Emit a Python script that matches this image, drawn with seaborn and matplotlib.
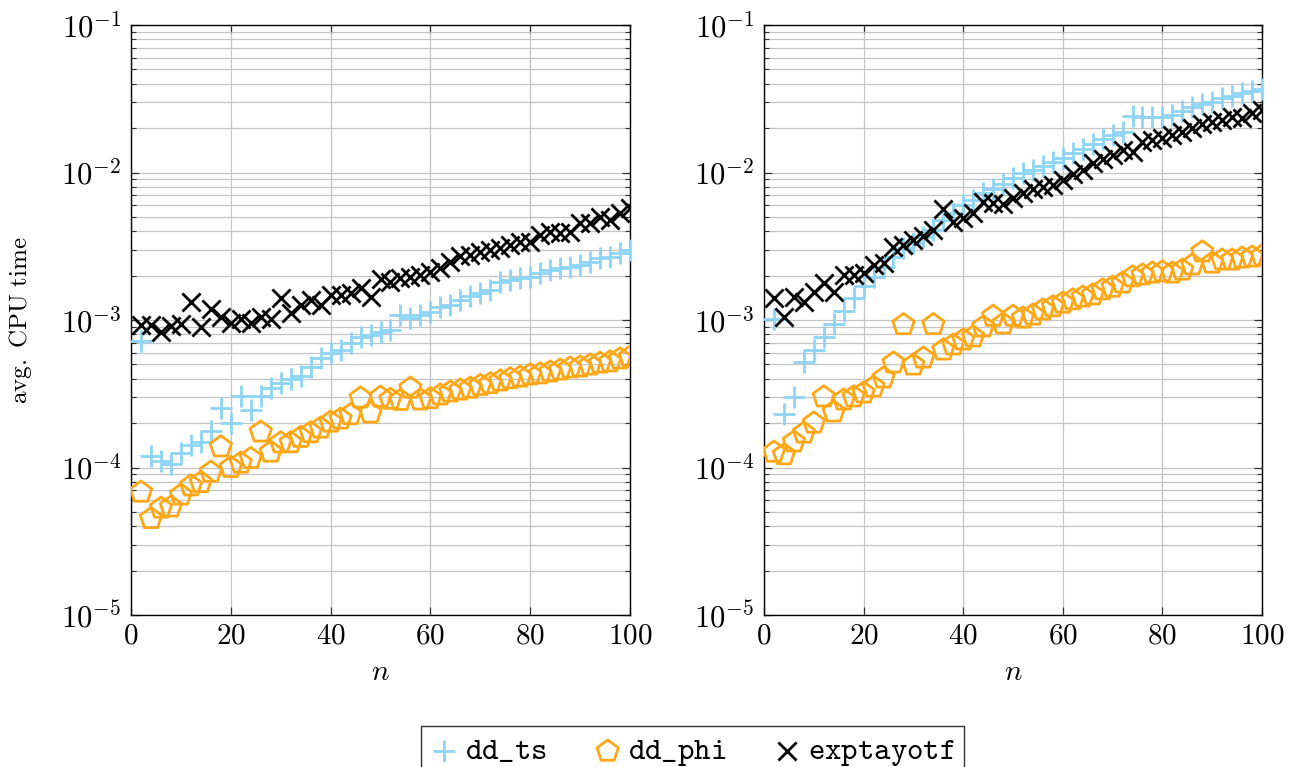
import matplotlib
matplotlib.use("Agg")
import matplotlib.pyplot as plt
from matplotlib.ticker import LogLocator, NullFormatter
import seaborn as sns
import pandas as pd

# ---------------- data ----------------
n_values = [2, 4, 6, 8, 10, 12, 14, 16, 18, 20, 22, 24, 26, 28, 30, 32, 34, 36, 38, 40,
            42, 44, 46, 48, 50, 52, 54, 56, 58, 60, 62, 64, 66, 68, 70, 72, 74, 76, 78, 80,
            82, 84, 86, 88, 90, 92, 94, 96, 98, 100]

left_dd_ts = [7.2e-4, 1.20e-4, 1.10e-4, 1.05e-4, 1.25e-4, 1.42e-4, 1.50e-4, 1.78e-4, 2.55e-4, 2.0e-4,
              3.05e-4, 2.45e-4, 3.05e-4, 3.45e-4, 3.74e-4, 4.0e-4, 4.2e-4, 4.8e-4, 5.5e-4, 5.97e-4,
              6.26e-4, 6.98e-4, 7.67e-4, 7.91e-4, 8.3e-4, 8.55e-4, 1.08e-3, 1.03e-3, 1.08e-3, 1.13e-3,
              1.23e-3, 1.26e-3, 1.37e-3, 1.46e-3, 1.52e-3, 1.60e-3, 1.81e-3, 1.87e-3, 1.93e-3, 1.96e-3,
              2.08e-3, 2.18e-3, 2.25e-3, 2.29e-3, 2.36e-3, 2.47e-3, 2.63e-3, 2.67e-3, 2.85e-3, 2.98e-3]
left_dd_phi = [6.8e-5, 4.5e-5, 5.3e-5, 5.4e-5, 6.5e-5, 7.5e-5, 7.9e-5, 9.3e-5, 1.38e-4, 1.0e-4,
               1.07e-4, 1.15e-4, 1.74e-4, 1.27e-4, 1.47e-4, 1.47e-4, 1.6e-4, 1.72e-4, 1.85e-4, 2.03e-4,
               2.13e-4, 2.28e-4, 2.96e-4, 2.34e-4, 3.0e-4, 2.9e-4, 2.85e-4, 3.45e-4, 2.87e-4, 2.93e-4,
               3.1e-4, 3.25e-4, 3.35e-4, 3.45e-4, 3.6e-4, 3.7e-4, 3.86e-4, 4.0e-4, 4.1e-4, 4.24e-4,
               4.31e-4, 4.44e-4, 4.58e-4, 4.73e-4, 4.8e-4, 4.95e-4, 5.1e-4, 5.2e-4, 5.44e-4, 5.6e-4]
left_exptayotf = [9.25e-4, 9.25e-4, 8.3e-4, 9.1e-4, 9.4e-4, 1.33e-3, 8.97e-4, 1.19e-3, 1.05e-3, 9.55e-4,
                  1.02e-3, 9.55e-4, 1.05e-3, 1.02e-3, 1.41e-3, 1.11e-3, 1.26e-3, 1.37e-3, 1.26e-3, 1.48e-3,
                  1.48e-3, 1.52e-3, 1.65e-3, 1.43e-3, 1.90e-3, 1.81e-3, 1.93e-3, 1.96e-3, 2.02e-3, 2.12e-3,
                  2.25e-3, 2.47e-3, 2.72e-3, 2.76e-3, 2.89e-3, 2.98e-3, 3.08e-3, 3.22e-3, 3.38e-3, 3.38e-3,
                  3.77e-3, 3.95e-3, 3.89e-3, 3.95e-3, 4.55e-3, 4.55e-3, 4.99e-3, 4.76e-3, 5.31e-3, 5.74e-3]

right_dd_ts = [1.02e-3, 2.31e-4, 3.01e-4, 5.19e-4, 6.26e-4, 7.67e-4, 9.4e-4, 1.15e-3, 1.41e-3, 1.70e-3,
               1.96e-3, 2.29e-3, 2.67e-3, 3.08e-3, 3.33e-3, 3.66e-3, 4.07e-3, 4.76e-3, 5.31e-3, 6.02e-3,
               6.51e-3, 7.26e-3, 7.73e-3, 8.36e-3, 9.18e-3, 9.93e-3, 1.04e-2, 1.11e-2, 1.18e-2, 1.25e-2,
               1.36e-2, 1.44e-2, 1.56e-2, 1.69e-2, 1.79e-2, 1.88e-2, 2.42e-2, 2.36e-2, 2.36e-2, 2.38e-2,
               2.45e-2, 2.61e-2, 2.78e-2, 2.91e-2, 3.01e-2, 3.20e-2, 3.30e-2, 3.46e-2, 3.57e-2, 3.68e-2]
right_dd_phi = [1.27e-4, 1.22e-4, 1.49e-4, 1.71e-4, 2.0e-4, 3.01e-4, 2.38e-4, 2.87e-4, 3.01e-4, 3.20e-4,
                3.51e-4, 4.04e-4, 5.11e-4, 9.3e-4, 4.95e-4, 5.52e-4, 9.3e-4, 6.26e-4, 6.77e-4, 7.32e-4,
                7.67e-4, 8.97e-4, 1.06e-3, 9.4e-4, 1.06e-3, 1.03e-3, 1.08e-3, 1.17e-3, 1.23e-3, 1.30e-3,
                1.37e-3, 1.43e-3, 1.48e-3, 1.60e-3, 1.67e-3, 1.78e-3, 1.96e-3, 2.02e-3, 2.08e-3, 2.12e-3,
                2.08e-3, 2.18e-3, 2.36e-3, 2.89e-3, 2.43e-3, 2.55e-3, 2.55e-3, 2.63e-3, 2.67e-3, 2.72e-3]
right_exptayotf = [1.41e-3, 1.05e-3, 1.43e-3, 1.33e-3, 1.55e-3, 1.78e-3, 1.55e-3, 2.02e-3, 2.02e-3, 2.08e-3,
                   2.36e-3, 2.43e-3, 3.13e-3, 3.22e-3, 3.49e-3, 3.71e-3, 4.07e-3, 5.66e-3, 4.62e-3, 4.92e-3,
                   5.31e-3, 6.31e-3, 6.21e-3, 6.11e-3, 6.72e-3, 7.26e-3, 7.73e-3, 7.98e-3, 8.22e-3, 8.89e-3,
                   9.77e-3, 1.04e-2, 1.16e-2, 1.24e-2, 1.32e-2, 1.42e-2, 1.38e-2, 1.61e-2, 1.66e-2, 1.71e-2,
                   1.79e-2, 1.88e-2, 2.0e-2, 2.13e-2, 2.20e-2, 2.27e-2, 2.38e-2, 2.34e-2, 2.53e-2, 2.65e-2]

series_names = ["dd_ts", "dd_phi", "exptayotf"]
legend_labels = [r"$\mathtt{dd\_ts}$", r"$\mathtt{dd\_phi}$", r"$\mathtt{exptayotf}\quad\;$"]
x_ticks = [0, 20, 40, 60, 80, 100]
x_tick_labels = [r"$0$", r"$20$", r"$40$", r"$60$", r"$80$", r"$100$"]
y_ticks = [1e-5, 1e-4, 1e-3, 1e-2, 1e-1]
y_tick_labels = [r"$10^{-5}$", r"$10^{-4}$", r"$10^{-3}$", r"$10^{-2}$", r"$10^{-1}$"]
x_label = r"$n$"
y_label = r"$\mathrm{avg.\ CPU\ time}$"

# ---------------- style ----------------
plt.rcParams["mathtext.fontset"] = "cm"
plt.rcParams["font.family"] = ["DejaVu Serif"]

colors = {"dd_ts": "#8ed5f5", "dd_phi": "#ffa717", "exptayotf": "#000000"}
markers = {"dd_ts": "+", "dd_phi": "p", "exptayotf": "x"}
sizes = {"dd_ts": 260, "dd_phi": 260, "exptayotf": 170}

W, H = 1293, 767
fig = plt.figure(figsize=(W / 100, H / 100), dpi=100)
ax_l = fig.add_axes([131 / W, 1 - 615 / H, (630 - 131) / W, (615 - 25) / H])
ax_r = fig.add_axes([764 / W, 1 - 615 / H, (1262 - 764) / W, (615 - 25) / H])

panels = [
    (ax_l, {"dd_ts": left_dd_ts, "dd_phi": left_dd_phi, "exptayotf": left_exptayotf}),
    (ax_r, {"dd_ts": right_dd_ts, "dd_phi": right_dd_phi, "exptayotf": right_exptayotf}),
]

for ax, data in panels:
    for name, lab in zip(series_names, legend_labels):
        df = pd.DataFrame({"n": n_values, "t": data[name]})
        if markers[name] == "p":
            sns.scatterplot(data=df, x="n", y="t", ax=ax, marker="p", s=sizes[name],
                            facecolor="none", edgecolor=colors[name], linewidth=2.0,
                            label=lab, zorder=3)
        else:
            sns.scatterplot(data=df, x="n", y="t", ax=ax, marker=markers[name], s=sizes[name],
                            color=colors[name], linewidth=2.0, label=lab, zorder=3)
    if ax.get_legend() is not None:
        ax.get_legend().remove()
    ax.set_yscale("log")
    ax.set_xlim(0, 100)
    ax.set_ylim(1e-5, 1e-1)
    ax.set_xticks(x_ticks, labels=x_tick_labels)
    ax.set_yticks(y_ticks, labels=y_tick_labels)
    ax.yaxis.set_minor_locator(LogLocator(base=10, subs=[2, 3, 4, 5, 6, 7, 8, 9], numticks=20))
    ax.yaxis.set_minor_formatter(NullFormatter())
    ax.grid(True, which="major", color="#c4c4c4", linewidth=0.9)
    ax.grid(True, which="minor", axis="y", color="#c4c4c4", linewidth=0.9)
    ax.set_axisbelow(True)
    ax.tick_params(which="both", direction="in", top=True, right=True, labelsize=21, color="#333333")
    ax.tick_params(which="major", length=6, width=0.9, pad=5)
    ax.tick_params(which="minor", length=3.5, width=0.8)
    ax.tick_params(axis="y", which="major", labelsize=22, pad=7)
    for sp in ax.spines.values():
        sp.set_color("black")
        sp.set_linewidth(1.0)
    ax.set_xlabel(x_label, fontsize=21, labelpad=6)
    ax.set_ylabel("")

ax_l.set_ylabel(y_label, fontsize=18, labelpad=19)

handles, labels = ax_l.get_legend_handles_labels()
leg = fig.legend(handles, labels, loc="upper left", bbox_to_anchor=(421 / W, 1 - 726 / H),
                 ncol=3, frameon=True, fancybox=False, edgecolor="black", fontsize=22.5,
                 handletextpad=0.2, columnspacing=1.5, borderpad=0.3, scatterpoints=1,
                 handlelength=0.9, borderaxespad=0)
leg.get_frame().set_linewidth(1.0)

fig.savefig("out.png", dpi=100)
